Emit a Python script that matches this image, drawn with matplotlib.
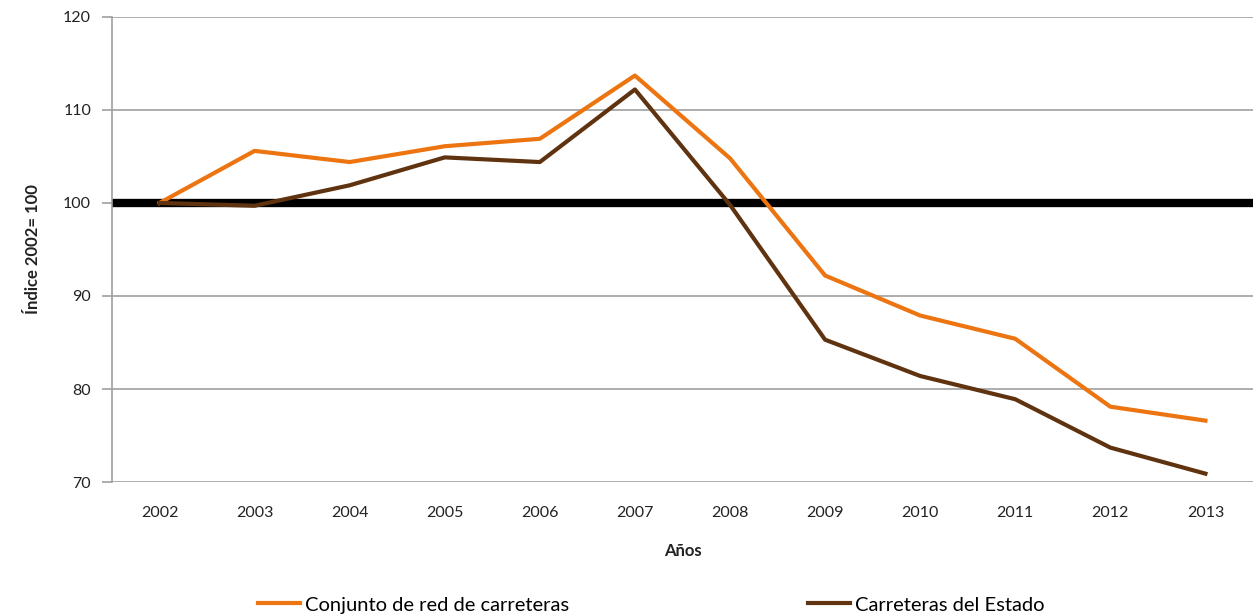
import matplotlib
matplotlib.use('Agg')
import matplotlib.pyplot as plt

plt.rcParams['font.family'] = ['Lato', 'DejaVu Sans']

years = ['2002', '2003', '2004', '2005', '2006', '2007', '2008', '2009', '2010', '2011', '2012', '2013']
conjunto = [100.0, 105.6, 104.4, 106.1, 106.9, 113.7, 104.8, 92.2, 87.9, 85.4, 78.1, 76.6]
estado = [100.0, 99.7, 101.9, 104.9, 104.4, 112.2, 99.8, 85.3, 81.4, 78.9, 73.7, 70.9]
yticks = [70, 80, 90, 100, 110, 120]

orange = '#ec7512'
brown = '#603310'
text_col = '#222222'

fig = plt.figure(figsize=(12.58, 6.16), dpi=100)
ax = fig.add_axes([0.089, 0.2175, 0.907, 0.755])

x = range(len(years))
ax.set_xlim(-0.5, len(years) - 0.5)
ax.set_ylim(70, 120)
ax.set_yticks(yticks)
ax.grid(axis='y', color='#a0a0a0', linewidth=1.2)
ax.set_axisbelow(True)
ax.axhline(100, color='black', linewidth=6, zorder=2)
ax.plot(x, conjunto, color=orange, linewidth=3, label='Conjunto de red de carreteras', zorder=3)
ax.plot(x, estado, color=brown, linewidth=3, label='Carreteras del Estado', zorder=3)

ax.set_xticks(list(x))
ax.set_xticklabels(years)
ax.tick_params(axis='x', length=0, pad=17, labelsize=11.5, colors=text_col)
ax.tick_params(axis='y', length=7, width=1.2, color='#a0a0a0', pad=8, labelsize=11.5, labelcolor=text_col)
for s in ['top', 'right', 'bottom']:
    ax.spines[s].set_visible(False)
ax.spines['left'].set_color('#a0a0a0')
ax.spines['left'].set_linewidth(1.2)

ax.set_xlabel('Años', fontsize=12, fontweight='bold', labelpad=17, color=text_col)
ax.set_ylabel('Índice 2002= 100', fontsize=12, fontweight='bold', labelpad=16, color=text_col)

fig.legend(loc='lower left', bbox_to_anchor=(0.205, 0.004), ncol=2, frameon=False,
           borderpad=0, borderaxespad=0,
           fontsize=14.5, handlelength=2.1, handletextpad=0.25, columnspacing=11.85)

fig.savefig('out.png', dpi=100)
